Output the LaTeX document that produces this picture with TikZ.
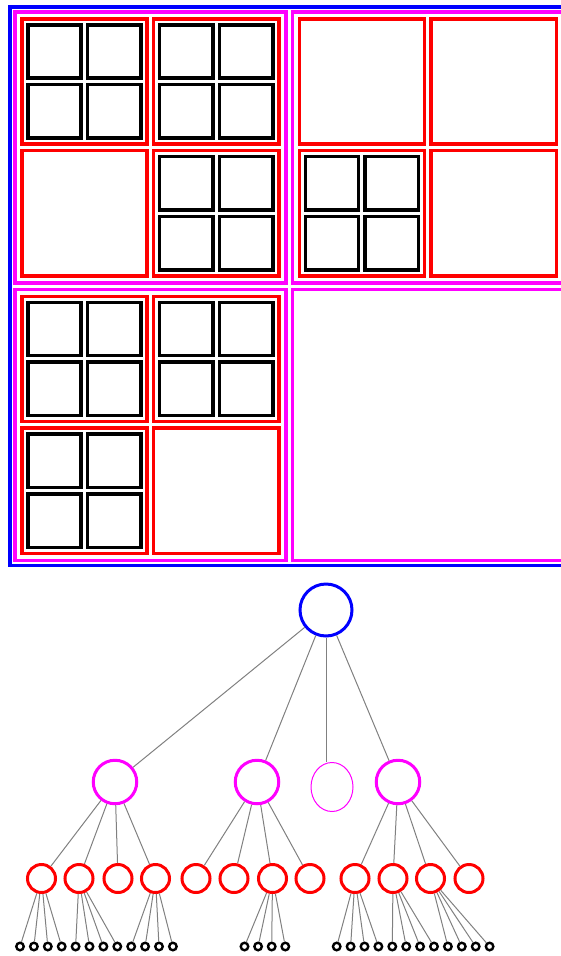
\documentclass[tikz,border=0pt]{standalone}
\usepackage{tikz}
\usetikzlibrary{shapes.geometric}

\definecolor{quadblue}{RGB}{0,0,255}
\definecolor{quadmag}{RGB}{255,0,255}
\definecolor{quadred}{RGB}{255,0,0}
\definecolor{edgegray}{RGB}{128,128,128}

\tikzset{
  bluecell/.style={draw=quadblue, line width=3.5pt},
  magcell/.style={draw=quadmag, line width=3.5pt},
  redcell/.style={draw=quadred, line width=3.5pt},
  blackcell/.style={draw=black, line width=3.5pt},
  rootnode/.style={circle, draw=quadblue, line width=3pt, minimum size=52pt, inner sep=0pt},
  quadnode/.style={circle, draw=quadmag, line width=3pt, minimum size=43.5pt, inner sep=0pt},
  leafquad/.style={ellipse, draw=quadmag, line width=1pt, minimum width=42pt, minimum height=49pt, inner sep=0pt},
  cellnode/.style={circle, draw=quadred, line width=3pt, minimum size=28pt, inner sep=0pt},
  dotnode/.style={circle, draw=black, line width=2.4pt, minimum size=7.5pt, inner sep=0pt},
  edge/.style={draw=edgegray, line width=1pt}
}

\begin{document}
\begin{tikzpicture}[x=1pt, y=-1pt]
        \useasboundingbox (0,0) rectangle (561,956);

        % Root square
        \draw[bluecell] (9.75,6.75) rectangle ++(558.5,558.5);

        % Quadrants
        \foreach \qx/\qy in {13/10, 290.5/10, 13/287.5, 290.5/287.5}
            \draw[magcell] (\qx+1.75,\qy+1.75) rectangle ++(271,271);

        % Second level cells
        \foreach \rx/\ry in {20/17, 151.75/17, 20/148.75, 151.75/148.75,
                             297.5/17, 429.25/17, 297.5/148.75, 429.25/148.75,
                             20/294.5, 151.75/294.5, 20/426.25, 151.75/426.25}
            \draw[redcell] (\rx+1.75,\ry+1.75) rectangle ++(125.25,125.25);

        % Third level cells
        \foreach \rx/\ry in {20/17, 151.75/17, 151.75/148.75, 297.5/148.75,
                             20/294.5, 151.75/294.5, 20/426.25}
            \foreach \i in {0,1}
                \foreach \j in {0,1}
                    \draw[blackcell] ({\rx+7.75+\i*59.875},{\ry+7.75+\j*59.875}) rectangle ++(53.375,53.375);

        % Tree: root and quadrant nodes
        \node[rootnode] (root) at (326,610) {};
        \node[quadnode] (m1) at (115,782) {};
        \node[quadnode] (m2) at (257,782) {};
        \node[leafquad] (m3) at (332,787) {};
        \node[quadnode] (m4) at (398,782) {};

        % Second level nodes
        \foreach \n/\x in {1/41.5, 2/79, 3/118, 4/155.5, 5/196, 6/234,
                           7/272.5, 8/310, 9/355, 10/393, 11/430.5, 12/469}
            \node[cellnode] (r\n) at (\x,878.5) {};

        % Third level nodes
        \foreach \i in {1,...,12}
            \node[dotnode] (a\i) at ({20+13.9*(\i-1)},946.5) {};
        \foreach \i in {1,...,4}
            \node[dotnode] (b\i) at ({244.5+13.6*(\i-1)},946.5) {};
        \foreach \i in {1,...,12}
            \node[dotnode] (c\i) at ({336.7+13.9*(\i-1)},946.5) {};

        % Connectors
        \foreach \c in {m1,m2,m4}
            \draw[edge] (root) -- (\c);
        \draw[edge] (root.south) -- (root.south |- m3.north);
        \foreach \c in {1,...,4}
            \draw[edge] (m1) -- (r\c);
        \foreach \c in {5,...,8}
            \draw[edge] (m2) -- (r\c);
        \foreach \c in {9,...,12}
            \draw[edge] (m4) -- (r\c);
        \foreach \c in {1,...,4}
            \draw[edge] (r1) -- (a\c);
        \foreach \c in {5,...,8}
            \draw[edge] (r2) -- (a\c);
        \foreach \c in {9,...,12}
            \draw[edge] (r4) -- (a\c);
        \foreach \c in {1,...,4}
            \draw[edge] (r7) -- (b\c);
        \foreach \c in {1,...,4}
            \draw[edge] (r9) -- (c\c);
        \foreach \c in {5,...,8}
            \draw[edge] (r10) -- (c\c);
        \foreach \c in {9,...,12}
            \draw[edge] (r11) -- (c\c);

    \end{tikzpicture}
\end{document}
